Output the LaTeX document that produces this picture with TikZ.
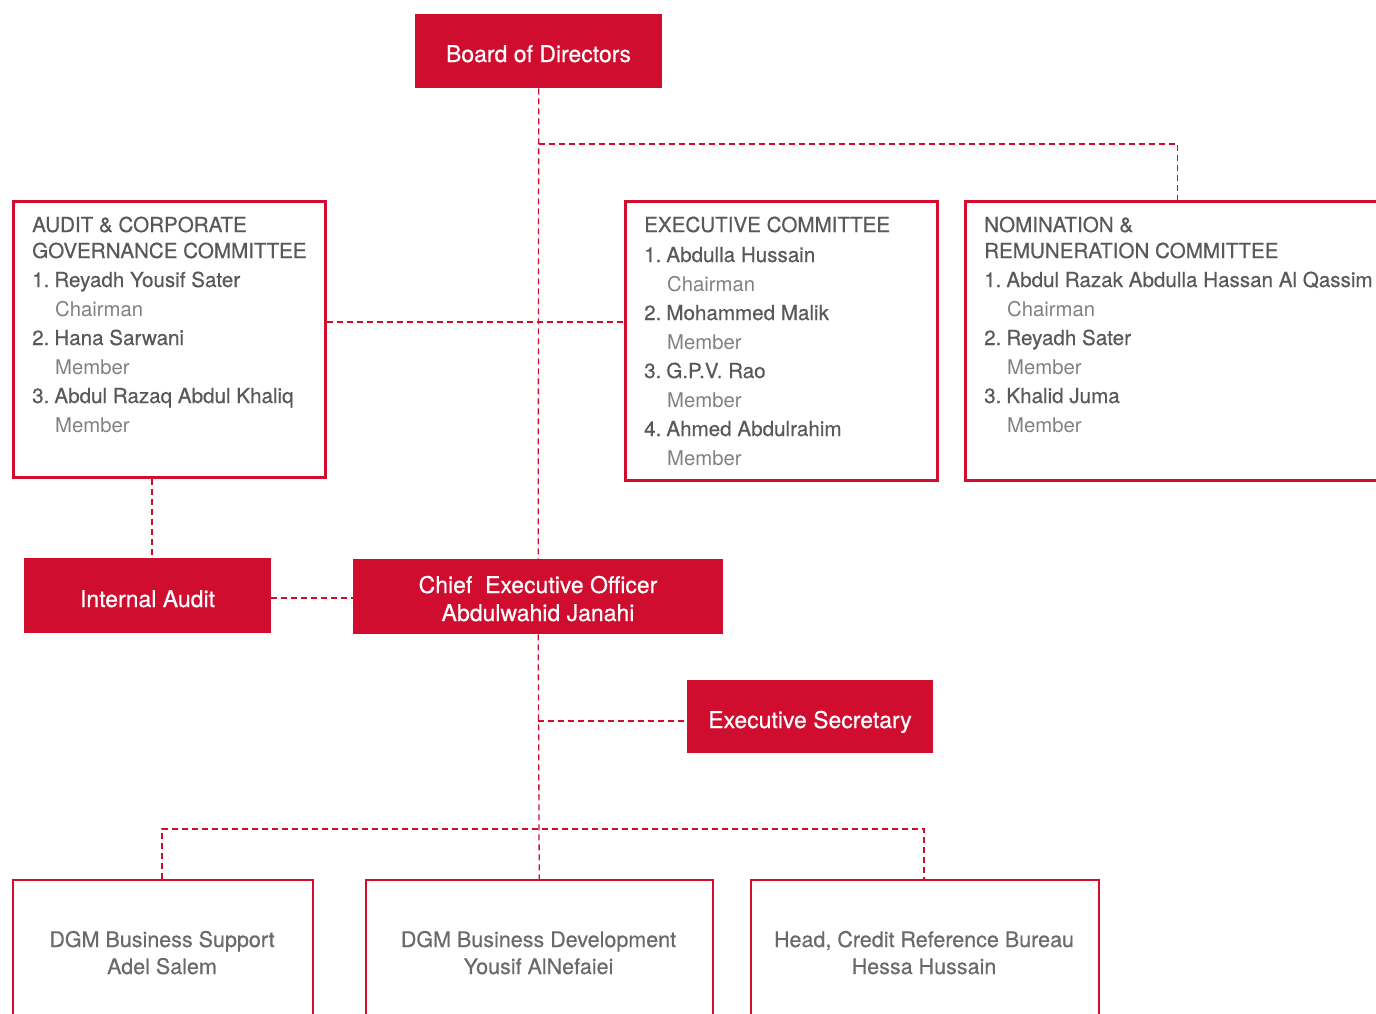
\documentclass[tikz,border=0pt]{standalone}
\usepackage{fontspec}
\setmainfont{TeX Gyre Heros}
\newfontfamily\medfont[FakeBold=0.5]{TeX Gyre Heros}
\usetikzlibrary{calc}

% list number followed by a tight gap
\newcommand\entryno[1]{#1\hspace{5pt}}

\definecolor{brandred}{RGB}{208,12,47}
\definecolor{namegray}{RGB}{88,89,91}
\definecolor{rolegray}{RGB}{128,129,131}
\definecolor{unitgray}{RGB}{105,106,109}

\tikzset{
  redbox/.style={fill=brandred, draw=none, inner sep=0pt, anchor=north west},
  boxtext/.style={text=white, inner sep=0pt, anchor=base, font=\medfont\fontsize{23}{27}\selectfont},
  panel/.style={draw=brandred, line width=3pt, inner sep=0pt, anchor=north west},
  unitbox/.style={draw=brandred, line width=1.5pt, inner sep=0pt, anchor=north west},
  link/.style={draw=brandred, line width=1.3pt, dash pattern=on 6pt off 4pt},
  headline/.style={anchor=base west, inner sep=0pt, text=namegray, font=\medfont\fontsize{20.6}{24}\selectfont},
  roleline/.style={anchor=base west, inner sep=0pt, text=rolegray, font=\fontsize{20.3}{24}\selectfont},
  unittext/.style={anchor=base, inner sep=0pt, text=unitgray, font=\medfont\fontsize{21.5}{25}\selectfont},
}

\begin{document}
\begin{tikzpicture}[x=1pt, y=-1pt]
\clip (0,0) rectangle (1376,1013);

% ---- filled units ----
\node[redbox, minimum width=247pt, minimum height=74pt] (board) at (415,14) {};
\node[boxtext] (boardT) at (538.5,62) {Board of Directors};

\node[redbox, minimum width=247pt, minimum height=75pt] (ia) at (24,558) {};
\node[boxtext] (iaT) at (147.5,607) {Internal Audit};

\node[redbox, minimum width=370pt, minimum height=75pt] (ceo) at (353,559) {};
\node[boxtext] (ceoT1) at (538,593) {Chief\ \ Executive Officer};
\node[boxtext] (ceoT2) at (538,621) {Abdulwahid Janahi};

\node[redbox, minimum width=246pt, minimum height=73pt] (sec) at (687,680) {};
\node[boxtext] (secT) at (810,728) {Executive Secretary};

% ---- committees ----
\node[panel, minimum width=312pt, minimum height=276pt] (audit) at (11.5,199.5) {};
\node[headline] (a1) at (32,232) {AUDIT \& CORPORATE};
\node[headline] (a2) at (32,258) {GOVERNANCE COMMITTEE};
\node[headline] (a3) at (32,287) {\entryno{1.}Reyadh Yousif Sater};
\node[roleline] (a4) at (55,316) {Chairman};
\node[headline] (a5) at (32,345) {\entryno{2.}Hana Sarwani};
\node[roleline] (a6) at (55,374) {Member};
\node[headline] (a7) at (32,403) {\entryno{3.}Abdul Razaq Abdul Khaliq};
\node[roleline] (a8) at (55,432) {Member};

\node[panel, minimum width=312pt, minimum height=278.5pt] (exec) at (623.5,200) {};
\node[headline] (e1) at (644,232) {EXECUTIVE COMMITTEE};
\node[headline] (e2) at (644,262) {\entryno{1.}Abdulla Hussain};
\node[roleline] (e3) at (667,291) {Chairman};
\node[headline] (e4) at (644,320) {\entryno{2.}Mohammed Malik};
\node[roleline] (e5) at (667,349) {Member};
\node[headline] (e6) at (644,378) {\entryno{3.}G.P.V. Rao};
\node[roleline] (e7) at (667,407) {Member};
\node[headline] (e8) at (644,436) {\entryno{4.}Ahmed Abdulrahim};
\node[roleline] (e9) at (667,465) {Member};

\node[panel, minimum width=450pt, minimum height=278.5pt] (nom) at (963.5,200) {};
\node[headline] (n1) at (984,232) {NOMINATION \&};
\node[headline] (n2) at (984,258) {REMUNERATION COMMITTEE};
\node[headline] (n3) at (984,287) {\entryno{1.}Abdul Razak Abdulla Hassan Al Qassim};
\node[roleline] (n4) at (1007,316) {Chairman};
\node[headline] (n5) at (984,345) {\entryno{2.}Reyadh Sater};
\node[roleline] (n6) at (1007,374) {Member};
\node[headline] (n7) at (984,403) {\entryno{3.}Khalid Juma};
\node[roleline] (n8) at (1007,432) {Member};

% ---- reporting units ----
\node[unitbox, minimum width=300pt, minimum height=160pt] (bs) at (12,879) {};
\node[unittext] (bsT1) at (162,947) {DGM Business Support};
\node[unittext] (bsT2) at (162,974) {Adel Salem};

\node[unitbox, minimum width=347pt, minimum height=160pt] (bd) at (365,879) {};
\node[unittext] (bdT1) at (538.5,947) {DGM Business Development};
\node[unittext] (bdT2) at (538.5,974) {Yousif AlNefaiei};

\node[unitbox, minimum width=348pt, minimum height=160pt] (crb) at (750,879) {};
\node[unittext] (crbT1) at (924,947) {Head, Credit Reference Bureau};
\node[unittext] (crbT2) at (924,974) {Hessa Hussain};

% ---- connector taps ----
\coordinate (nomTap) at (1177.5,144);
\coordinate (committeeRow) at (538,322);
\coordinate (auditTap) at (152,0);
\coordinate (iaRow) at (0,598);
\coordinate (secTap) at (538,721);
\coordinate (busLeft) at (162,829);
\coordinate (busRight) at (924,829);

% ---- connectors ----
\draw[link] (board.south) -- (ceo.north);
\draw[link] (board.south |- nomTap) -- (nomTap) -- (nom.north -| nomTap);
\draw[link] (audit.east |- committeeRow) -- (exec.west |- committeeRow);
\draw[link] (audit.south -| auditTap) -- (ia.north -| auditTap);
\draw[link] (ia.east |- iaRow) -- (ceo.west |- iaRow);
\draw[link] (ceo.south) -- (bd.north);
\draw[link] (secTap) -- (sec.west |- secTap);
\draw[link] (bs.north -| busLeft) -- (busLeft) -- (busRight) -- (crb.north -| busRight);
\end{tikzpicture}
\end{document}
